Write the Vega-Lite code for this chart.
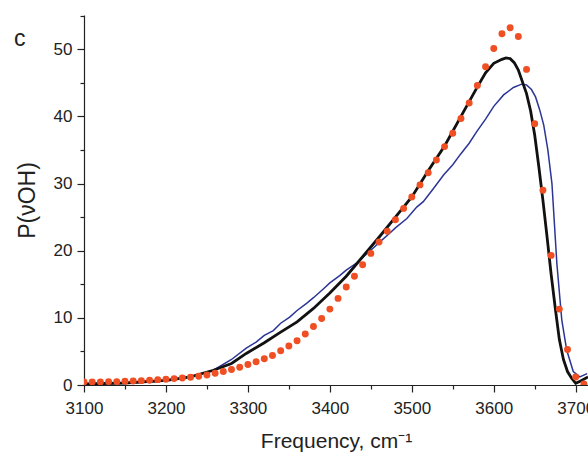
{
  "$schema": "https://vega.github.io/schema/vega-lite/v6.json",
  "width": 504,
  "height": 370,
  "autosize": "none",
  "padding": {"left": 84, "top": 15, "right": 0, "bottom": 68},
  "background": "white",
  "config": {
    "view": {"stroke": null},
    "font": "Liberation Sans",
    "axis": {"labelFont": "Liberation Sans", "titleFont": "Liberation Sans", "labelFontSize": 17, "titleFontSize": 21, "labelColor": "#222", "titleColor": "#222", "domainColor": "#222", "tickColor": "#222", "grid": false, "titleFontWeight": "normal", "domainWidth": 1.2, "tickWidth": 1.2}
  },
  "title": {"text": "c", "anchor": "start", "frame": "group", "fontSize": 23, "fontWeight": "normal", "color": "#222", "font": "Liberation Sans", "baseline": "top", "offset": 0, "dx": -70, "dy": 44},
  "datasets": {
    "dots": [
      {"f": 3100, "p": 0.45}, {"f": 3110, "p": 0.45}, {"f": 3120, "p": 0.45}, {"f": 3130, "p": 0.5}, {"f": 3140, "p": 0.5},
      {"f": 3150, "p": 0.55}, {"f": 3160, "p": 0.6}, {"f": 3170, "p": 0.65}, {"f": 3180, "p": 0.7}, {"f": 3190, "p": 0.8},
      {"f": 3200, "p": 0.85}, {"f": 3210, "p": 0.95}, {"f": 3220, "p": 1.05}, {"f": 3230, "p": 1.15}, {"f": 3240, "p": 1.3},
      {"f": 3250, "p": 1.5}, {"f": 3260, "p": 1.75}, {"f": 3270, "p": 2.0}, {"f": 3280, "p": 2.3}, {"f": 3290, "p": 2.65},
      {"f": 3300, "p": 3.05}, {"f": 3310, "p": 3.45}, {"f": 3320, "p": 3.9}, {"f": 3330, "p": 4.4}, {"f": 3340, "p": 5.1},
      {"f": 3350, "p": 5.8}, {"f": 3360, "p": 6.6}, {"f": 3370, "p": 7.6}, {"f": 3380, "p": 8.7}, {"f": 3390, "p": 9.9},
      {"f": 3400, "p": 11.3}, {"f": 3410, "p": 12.9}, {"f": 3420, "p": 14.6}, {"f": 3430, "p": 16.2}, {"f": 3440, "p": 17.9},
      {"f": 3450, "p": 19.6}, {"f": 3460, "p": 21.3}, {"f": 3470, "p": 22.9}, {"f": 3480, "p": 24.6}, {"f": 3490, "p": 26.3},
      {"f": 3500, "p": 28.0}, {"f": 3510, "p": 29.8}, {"f": 3520, "p": 31.6}, {"f": 3530, "p": 33.5}, {"f": 3540, "p": 35.5},
      {"f": 3550, "p": 37.5}, {"f": 3560, "p": 39.7}, {"f": 3570, "p": 42.0}, {"f": 3580, "p": 44.6}, {"f": 3590, "p": 47.4},
      {"f": 3600, "p": 50.1}, {"f": 3610, "p": 52.3}, {"f": 3620, "p": 53.2}, {"f": 3630, "p": 51.9}, {"f": 3640, "p": 47.0},
      {"f": 3650, "p": 38.9}, {"f": 3660, "p": 29.0}, {"f": 3670, "p": 19.3}, {"f": 3680, "p": 11.3}, {"f": 3690, "p": 5.3},
      {"f": 3700, "p": 1.2}, {"f": 3710, "p": 0.15}
    ],
    "black": [
      {"f": 3100, "p": 0.15}, {"f": 3150, "p": 0.3}, {"f": 3200, "p": 0.7}, {"f": 3230, "p": 1.2}, {"f": 3258, "p": 2.2},
      {"f": 3280, "p": 3.2}, {"f": 3298, "p": 4.7}, {"f": 3320, "p": 6.3}, {"f": 3339, "p": 7.8}, {"f": 3360, "p": 9.4},
      {"f": 3380, "p": 11.4}, {"f": 3400, "p": 13.7}, {"f": 3420, "p": 16.2}, {"f": 3440, "p": 19.1}, {"f": 3460, "p": 22.0},
      {"f": 3480, "p": 25.0}, {"f": 3500, "p": 28.0}, {"f": 3520, "p": 31.9}, {"f": 3540, "p": 35.6}, {"f": 3560, "p": 40.0},
      {"f": 3580, "p": 44.4}, {"f": 3590, "p": 46.5}, {"f": 3600, "p": 47.9}, {"f": 3610, "p": 48.5}, {"f": 3615, "p": 48.7},
      {"f": 3620, "p": 48.6}, {"f": 3625, "p": 48.0}, {"f": 3630, "p": 46.9}, {"f": 3640, "p": 43.4}, {"f": 3645, "p": 40.8},
      {"f": 3650, "p": 37.2}, {"f": 3655, "p": 32.5}, {"f": 3660, "p": 27.5}, {"f": 3665, "p": 22.1}, {"f": 3670, "p": 16.5},
      {"f": 3675, "p": 11.5}, {"f": 3680, "p": 6.8}, {"f": 3685, "p": 3.8}, {"f": 3690, "p": 2.0}, {"f": 3695, "p": 1.0},
      {"f": 3700, "p": 0.25}, {"f": 3706, "p": 0.6}, {"f": 3715, "p": 1.2}
    ],
    "blue": [
      {"f": 3100, "p": 0.1}, {"f": 3150, "p": 0.25}, {"f": 3200, "p": 0.6}, {"f": 3230, "p": 1.2}, {"f": 3258, "p": 2.2},
      {"f": 3280, "p": 3.8}, {"f": 3298, "p": 5.5}, {"f": 3310, "p": 6.4}, {"f": 3320, "p": 7.4}, {"f": 3331, "p": 8.1},
      {"f": 3340, "p": 9.2}, {"f": 3351, "p": 10.1}, {"f": 3360, "p": 11.1}, {"f": 3372, "p": 12.2}, {"f": 3380, "p": 13.0},
      {"f": 3392, "p": 14.3}, {"f": 3400, "p": 15.2}, {"f": 3412, "p": 16.3}, {"f": 3420, "p": 17.1}, {"f": 3433, "p": 18.2},
      {"f": 3440, "p": 19.0}, {"f": 3453, "p": 20.4}, {"f": 3460, "p": 21.2}, {"f": 3473, "p": 22.6}, {"f": 3480, "p": 23.4},
      {"f": 3494, "p": 24.8}, {"f": 3506, "p": 26.5}, {"f": 3514, "p": 27.3}, {"f": 3526, "p": 29.2}, {"f": 3539, "p": 31.3},
      {"f": 3550, "p": 32.8}, {"f": 3559, "p": 34.3}, {"f": 3570, "p": 36.0}, {"f": 3579, "p": 37.7}, {"f": 3590, "p": 39.6},
      {"f": 3600, "p": 41.5}, {"f": 3612, "p": 43.2}, {"f": 3624, "p": 44.3}, {"f": 3634, "p": 44.8}, {"f": 3640, "p": 44.7},
      {"f": 3646, "p": 44.0}, {"f": 3651, "p": 42.9}, {"f": 3656, "p": 41.0}, {"f": 3661, "p": 38.7}, {"f": 3666, "p": 35.0},
      {"f": 3671, "p": 30.0}, {"f": 3677, "p": 18.1}, {"f": 3683, "p": 9.7}, {"f": 3689, "p": 5.2}, {"f": 3697, "p": 2.0},
      {"f": 3705, "p": 1.2}, {"f": 3714, "p": 1.7}
    ]
  },
  "encoding": {
    "x": {"field": "f", "type": "quantitative", "scale": {"domain": [3100, 3715], "nice": false, "zero": false},
      "axis": {"title": "Frequency, cm⁻¹", "values": [3100, 3150, 3200, 3250, 3300, 3350, 3400, 3450, 3500, 3550, 3600, 3650, 3700],
        "format": "d", "labelExpr": "datum.value % 100 === 0 ? datum.label : ''", "labelFlush": false, "labelOverlap": false,
        "tickSize": {"condition": {"test": "datum.value % 100 !== 0", "value": 4}, "value": 7}, "labelPadding": 8, "titlePadding": 14}},
    "y": {"field": "p", "type": "quantitative", "scale": {"domain": [0, 55.1], "nice": false},
      "axis": {"title": "P(νOH)", "titleFontSize": 23, "values": [0, 5, 10, 15, 20, 25, 30, 35, 40, 45, 50, 55],
        "labelExpr": "datum.value % 10 === 0 ? datum.label : ''", "labelOverlap": false, "labelFlush": false,
        "tickSize": {"condition": {"test": "datum.value % 10 !== 0", "value": 4}, "value": 7}, "labelPadding": 5, "titlePadding": 14}}
  },
  "layer": [
    {"data": {"name": "blue"}, "mark": {"type": "line", "color": "#2B3596", "strokeWidth": 1.5, "clip": true}},
    {"data": {"name": "black"}, "mark": {"type": "line", "color": "#111111", "strokeWidth": 2.8, "clip": true}},
    {"data": {"name": "dots"}, "mark": {"type": "circle", "color": "#F04E23", "opacity": 1, "size": 48, "clip": true}}
  ]
}
